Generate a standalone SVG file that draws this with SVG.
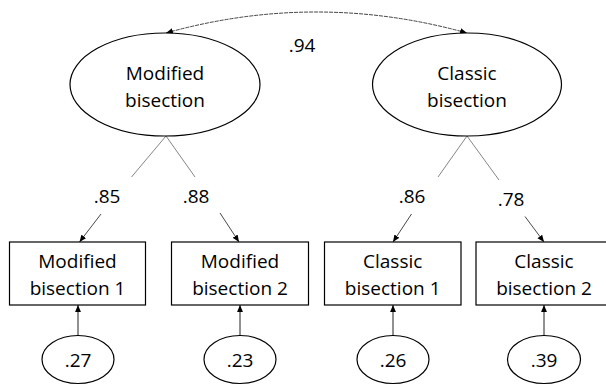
<svg xmlns="http://www.w3.org/2000/svg" width="606" height="385" viewBox="0 0 606 385">
  <defs>
    <marker id="ah" viewBox="0 0 10 10" refX="10" refY="5" markerWidth="7" markerHeight="7" markerUnits="userSpaceOnUse" orient="auto-start-reverse">
      <path d="M0,0.8 L10,5 L0,9.2 z" fill="#000"/>
    </marker>
  </defs>
  <style>
    text { font-family: "Open Sans", "Liberation Sans", sans-serif; font-size: 19px; fill: #000; text-anchor: middle; }
    .shape { fill: #fff; stroke: #000; stroke-width: 1.2; }
    .load { stroke: #777; stroke-width: 0.9; fill: none; }
    .arr { stroke: #333; stroke-width: 0.9; fill: none; marker-end: url(#ah); }
    .err { stroke: #222; stroke-width: 1; fill: none; marker-end: url(#ah); }
  </style>
  <rect width="606" height="385" fill="#fff"/>

  <g id="connectors">
    <path d="M166,33 Q316,-9 467,33" fill="none" stroke="#444" stroke-width="1" stroke-dasharray="4 1" marker-start="url(#ah)" marker-end="url(#ah)"/>
    <line class="load" x1="166" y1="136" x2="131.5" y2="177"/>
    <line class="load" x1="166" y1="136" x2="195" y2="177"/>
    <line class="load" x1="467" y1="136" x2="438" y2="177"/>
    <line class="load" x1="467" y1="136" x2="499" y2="180"/>
    <line class="arr" x1="101" y1="214" x2="79.5" y2="242"/>
    <line class="arr" x1="220" y1="213" x2="239" y2="242"/>
    <line class="arr" x1="411.5" y1="214" x2="393" y2="242"/>
    <line class="arr" x1="525" y1="216.5" x2="544" y2="242"/>
    <line class="err" x1="78" y1="335.5" x2="78" y2="305"/>
    <line class="err" x1="240" y1="335.5" x2="240" y2="305" stroke="#f2f2f2"/>
    <line class="err" x1="393" y1="335.5" x2="393" y2="305" stroke="#999"/>
    <line class="err" x1="544" y1="335.5" x2="544" y2="305"/>
  </g>

  <text x="302" y="52">.94</text>
  <text x="107" y="203">.85</text>
  <text x="196" y="203">.88</text>
  <text x="412" y="203">.86</text>
  <text x="511" y="206">.78</text>

  <g id="modified-bisection">
    <ellipse class="shape" cx="165" cy="84.5" rx="95" ry="51.5"/>
    <text x="165" y="80">Modified</text>
    <text x="165" y="107">bisection</text>
  </g>
  <g id="classic-bisection">
    <ellipse class="shape" cx="467" cy="84.5" rx="94.5" ry="51.5"/>
    <text x="467" y="80">Classic</text>
    <text x="467" y="107">bisection</text>
  </g>

  <g id="modified-bisection-1">
    <rect class="shape" x="9.5" y="242" width="136" height="63"/>
    <text x="77.5" y="267.5">Modified</text>
    <text x="77.5" y="294.5">bisection 1</text>
  </g>
  <g id="modified-bisection-2">
    <rect class="shape" x="171.5" y="242" width="137" height="63"/>
    <text x="240" y="267.5">Modified</text>
    <text x="240" y="294.5">bisection 2</text>
  </g>
  <g id="classic-bisection-1">
    <rect class="shape" x="324.5" y="242" width="136.5" height="63"/>
    <text x="392.7" y="267.5">Classic</text>
    <text x="392.7" y="294.5">bisection 1</text>
  </g>
  <g id="classic-bisection-2">
    <rect class="shape" x="476" y="242" width="136" height="63"/>
    <text x="544" y="267.5">Classic</text>
    <text x="544" y="294.5">bisection 2</text>
  </g>

  <g id="e1">
    <ellipse class="shape" cx="78" cy="359.5" rx="36" ry="24"/>
    <text x="78" y="367">.27</text>
  </g>
  <g id="e2">
    <ellipse class="shape" cx="240" cy="359.5" rx="36" ry="24"/>
    <text x="240" y="367">.23</text>
  </g>
  <g id="e3">
    <ellipse class="shape" cx="393" cy="359.5" rx="36" ry="24"/>
    <text x="393" y="367">.26</text>
  </g>
  <g id="e4">
    <ellipse class="shape" cx="544" cy="359.5" rx="36.5" ry="24"/>
    <text x="544" y="367">.39</text>
  </g>
</svg>
